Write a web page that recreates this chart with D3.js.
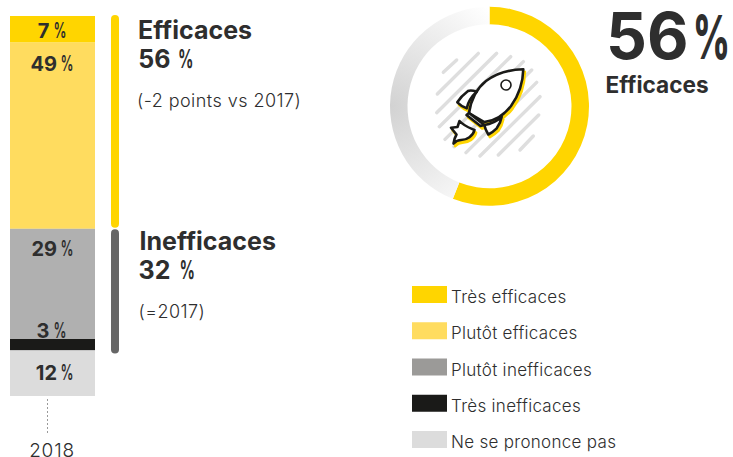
<!DOCTYPE html>
<html><head><meta charset="utf-8">
<script src="https://cdn.jsdelivr.net/npm/d3@7"></script>
<style>html,body{margin:0;padding:0;background:#fff}svg{display:block}
text{font-family:"Inter","Noto Sans",sans-serif;fill:#2e2e2e}</style></head><body>
<svg id="c" width="733" height="457"></svg>
<script>
const categories=["Très efficaces","Plutôt efficaces","Plutôt inefficaces","Très inefficaces","Ne se prononce pas"];
const values=[7,49,29,3,12];
const barColors=["#ffd500","#ffdc5f","#b0b0b0","#1a1a18","#dcdcdc"];
const legendColors=["#ffd500","#ffdc5f","#9b9a98","#1a1a18","#dcdcdc"];
const year="2018";
const groupNames=["Efficaces","Inefficaces"];
const groupValues=[56,32];
const groupNotes=["(-2 points vs 2017)","(=2017)"];
const groupColors=["#ffd500","#666666"];
const donutValues=[56,44];
const ink="#222220";

const svg=d3.select("#c");
const y=d3.scaleLinear().domain([0,100]).range([16,396]);
const band=d3.scaleBand().domain([year]).range([10,95]);
let cum=0;
const stack=values.map((v,i)=>{const s={v,i,y0:cum,y1:cum+v};cum+=v;return s;});

svg.append("g").selectAll("rect").data(stack).join("rect")
 .attr("x",band(year)).attr("width",band.bandwidth())
 .attr("y",d=>y(d.y0)).attr("height",d=>y(d.y1)-y(d.y0))
 .attr("fill",d=>barColors[d.i]);

// number + narrow percent sign
function pct(parent,val,xEnd,base,fs,fw,px,pw,pfs,pfw){
 parent.append("text").attr("x",xEnd).attr("y",base).attr("text-anchor","end").attr("font-size",fs).attr("font-weight",fw).attr("fill",ink).text(val);
 parent.append("text").attr("x",px).attr("y",base).attr("font-size",pfs).attr("font-weight",pfw).attr("fill",ink)
  .attr("textLength",pw).attr("lengthAdjust","spacingAndGlyphs").text("%");
}
const labelBase=[38,71,256,338,380];
const labels=svg.append("g");
stack.forEach(d=>{
 const two=d.v>=10;
 pct(labels,d.v,two?57:49.5,labelBase[d.i],20,700,two?60.5:53.5,13,21,600);
});

// axis stub
svg.append("line").attr("x1",47.5).attr("x2",47.5).attr("y1",399).attr("y2",434)
 .attr("stroke","#9a9a9a").attr("stroke-width",1).attr("stroke-dasharray","2 2");
svg.append("text").attr("x",52).attr("y",456.5).attr("text-anchor","middle").attr("font-size",19).attr("font-weight",350).attr("letter-spacing",0.8).attr("fill","#333").text(year);

// side brackets
const tops=[y(0)-1,y(56)+0.5], bots=[y(56)-1,y(88)+3];
groupNames.forEach((n,i)=>{
 svg.append("rect").attr("x",111).attr("width",8).attr("y",tops[i]).attr("height",bots[i]-tops[i]).attr("rx",4).attr("fill",groupColors[i]);
});
const gx=[138,139.5], gb=[[39,68,107],[250,279,318]];
groupNames.forEach((n,i)=>{
 svg.append("text").attr("x",gx[i]).attr("y",gb[i][0]).attr("font-size",25).attr("font-weight",700).attr("fill",ink).text(n);
 pct(svg,groupValues[i],170.5,gb[i][1],25,700,gx[i]+40,15.5,26,750);
 svg.append("text").attr("x",gx[i]-1).attr("y",gb[i][2]).attr("font-size",18).attr("font-weight",350).attr("letter-spacing",0.45).attr("fill","#333").text(groupNotes[i]);
});

// donut
const defs=svg.append("defs");
const lg=defs.append("radialGradient").attr("id","ringGrad").attr("gradientUnits","userSpaceOnUse")
 .attr("cx",-99).attr("cy",0).attr("r",138);
lg.append("stop").attr("offset","0").attr("stop-color","#d2d2d2");
lg.append("stop").attr("offset","1").attr("stop-color","#ffffff");
const cx=489.5, cy=106.3;
const pie=d3.pie().sort(null)(donutValues);
const arc=d3.arc().innerRadius(82).outerRadius(99.5);
const dg=svg.append("g").attr("transform",`translate(${cx},${cy})`);
dg.selectAll("path").data(pie).join("path").attr("d",arc)
 .attr("fill",(d,i)=>i===0?"#ffd500":"url(#ringGrad)");

// rocket illustration
const hatch=[[190,217,230,180],[172,282,295,160],[170,338,350,160],[178,380,392,170],[195,418,430,185],[222,440,455,210],[258,458,470,247],[300,468,480,290],[355,465,476,345],[420,450,460,408]];
const P=(x,y)=>[380+x/3,y/3];
svg.append("g").selectAll("line").data(hatch).join("line")
 .attr("x1",d=>P(d[0],d[1])[0]).attr("y1",d=>P(d[0],d[1])[1])
 .attr("x2",d=>P(d[2],d[3])[0]).attr("y2",d=>P(d[2],d[3])[1])
 .attr("stroke","#dedede").attr("stroke-width",3.4).attr("stroke-linecap","round");
const rocketPaths=[
 "M523.3,69.3 C512,69.5 498,72 486,81 C476,89 471,100 469,113 L484.3,122 C494,121 504,115 511,106 C519,95 523,82 523.3,69.3 Z",
 "M476.7,91.7 C472,90 470,90 468,91 C464,94 460,98 457.3,102.3 C460,105 463,107 466.7,108.3 C468,102 472,96 476.7,91.7 Z",
 "M501.7,116.7 C501,121 499,125 496.7,128.3 C494,131 491,133 488.3,134.5 C486.5,131.5 485,128.5 484.3,125 C491,124 497,121 501.7,116.7 Z",
 "M469,113 L484.3,125 L480.5,126 L466.5,115 Z",
 "M451,127.7 L457.5,127 L459.5,121 C464,126 470,128 474.5,130 C473,136 467,140 461,140 C458,140 456,141 453.5,143.5 C454,140 455,137 456.5,134.5 Z"
];
const rg=svg.append("g");
rg.append("g").attr("transform","translate(1.6,2.6)").selectAll("path").data(rocketPaths).join("path").attr("d",d=>d)
 .attr("fill","#ffd500").attr("stroke","#ffd500").attr("stroke-width",2.6).attr("stroke-linejoin","round");
rg.append("g").selectAll("path").data(rocketPaths).join("path").attr("d",d=>d)
 .attr("fill","#fff").attr("stroke","#1a1a18").attr("stroke-width",2.6).attr("stroke-linejoin","round");
rg.append("circle").attr("cx",506).attr("cy",85).attr("r",5).attr("fill","#fff").attr("stroke","#1a1a18").attr("stroke-width",1.6);

// big number
pct(svg,donutValues[0],688.5,59,64,700,693,37,60,800);
svg.append("text").attr("x",605.5).attr("y",93).attr("font-size",22.6).attr("font-weight",700).attr("fill",ink).text(groupNames[0]);

// legend
const ly=d3.scalePoint().domain(categories).range([286,431]);
const lgd=svg.append("g").selectAll("g").data(categories).join("g").attr("transform",d=>`translate(412,${ly(d)})`);
lgd.append("rect").attr("width",35).attr("height",17).attr("fill",(d,i)=>legendColors[i]);
lgd.append("text").attr("x",39).attr("y",17).attr("font-size",17).attr("font-weight",350).attr("letter-spacing",0.3).attr("fill","#333").text(d=>d);
</script></body></html>
